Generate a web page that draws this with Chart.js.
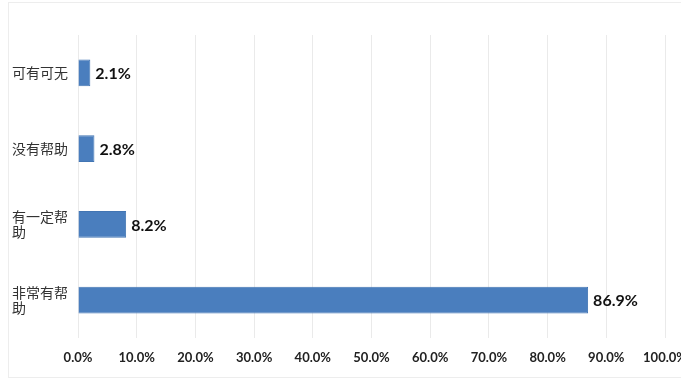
<!DOCTYPE html>
<html>
<head>
<meta charset="utf-8">
<script src="https://cdn.jsdelivr.net/npm/chart.js@4"></script>
<style>
html,body{margin:0;padding:0;background:#fff;}
#wrap{width:681px;height:383px;position:relative;}
</style>
</head>
<body>
<div id="wrap"><canvas id="c" width="681" height="383"></canvas></div>
<script>
const categories = [['可有可无'], ['没有帮助'], ['有一定帮', '助'], ['非常有帮', '助']];
const values = [2.1, 2.8, 8.2, 86.9];
const xMin = 0, xMax = 100, xStep = 10;

const frame = {
  id: 'frame',
  beforeDraw(chart) {
    const ctx = chart.ctx;
    ctx.save();
    ctx.fillStyle = '#fff';
    ctx.fillRect(0, 0, chart.width, chart.height);
    ctx.strokeStyle = '#ededed';
    ctx.lineWidth = 1;
    ctx.strokeRect(8.5, 2.5, chart.width, 375);
    ctx.restore();
  }
};

const valueLabels = {
  id: 'valueLabels',
  afterDatasetsDraw(chart) {
    const ctx = chart.ctx;
    ctx.save();
    ctx.font = 'bold 16px Lato';
    ctx.fillStyle = '#111';
    ctx.textAlign = 'left';
    ctx.textBaseline = 'middle';
    chart.getDatasetMeta(0).data.forEach((el, i) => {
      const p = el.getProps(['x', 'y'], true);
      ctx.fillText(values[i].toFixed(1) + '%', p.x + 5, p.y + 1);
    });
    ctx.restore();
  }
};

new Chart(document.getElementById('c'), {
  type: 'bar',
  data: {
    labels: categories,
    datasets: [{
      data: values,
      backgroundColor: '#4a7ebe',
      borderColor: '#4275b3',
      borderWidth: 1,
      categoryPercentage: 1,
      barPercentage: 0.356
    }]
  },
  options: {
    indexAxis: 'y',
    responsive: false,
    animation: false,
    layout: { padding: { left: 12, right: 16, top: 35, bottom: 0 } },
    plugins: { legend: { display: false }, tooltip: { enabled: false } },
    scales: {
      x: {
        min: xMin, max: xMax,
        ticks: {
          stepSize: xStep,
          padding: 12,
          color: '#222',
          font: { family: 'Lato', size: 13, weight: 'bold' },
          callback: v => Number(v).toFixed(1) + '%'
        },
        grid: { color: '#eaeaea', drawTicks: false },
        border: { display: false },
        afterFit(s) { s.height = 45; s.paddingLeft = 0; s.paddingRight = 0; }
      },
      y: {
        ticks: {
          crossAlign: 'far',
          color: '#333',
          font: { family: 'Noto Sans CJK SC', size: 14, lineHeight: 1.1 }
        },
        grid: { display: false },
        border: { display: false },
        afterFit(s) { s.width = 66; }
      }
    }
  },
  plugins: [frame, valueLabels]
});
</script>
</body>
</html>
